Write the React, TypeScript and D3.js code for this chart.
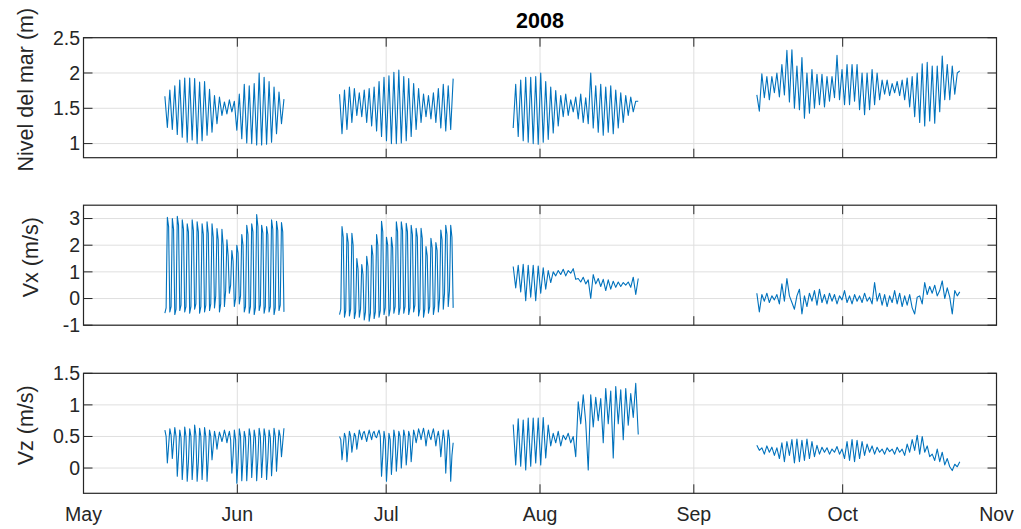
import React from 'react';
import * as d3 from 'd3';

const W = 1021;
const H = 529;

const title = '2008';
const monthLabels = ['May', 'Jun', 'Jul', 'Aug', 'Sep', 'Oct', 'Nov'];
const panelLabels = ['Nivel del mar (m)', 'Vx (m/s)', 'Vz (m/s)'];

// segment bounds, in days after 1 May 2008
const segStartDays = [16.4, 51.6, 86.6, 135.7];
const segEndDays = [40.4, 74.5, 111.8, 176.6];

// Sea level (m)
const levelSeg1 = [1.67,1.23,1.76,1.20,1.82,1.13,1.90,1.09,1.93,1.02,1.93,1.05,1.92,1.00,1.87,1.04,1.88,1.12,1.77,1.16,1.68,1.28,1.66,1.40,1.59,1.42,1.62,1.45,1.60,1.19,1.70,1.07,1.84,1.01,1.82,1.00,1.85,0.98,2.00,0.98,1.94,0.99,1.88,1.02,1.80,1.14,1.73,1.28,1.63];
const levelSeg2 = [1.70,1.14,1.76,1.20,1.80,1.30,1.78,1.40,1.72,1.38,1.76,1.30,1.78,1.25,1.80,1.18,1.88,1.10,1.94,1.04,1.96,1.00,2.01,1.00,2.04,1.01,1.95,1.04,1.92,1.10,1.85,1.20,1.78,1.30,1.70,1.38,1.68,1.35,1.72,1.30,1.78,1.22,1.84,1.18,1.82,1.20,1.92];
const levelSeg3 = [1.22,1.84,1.10,1.90,1.04,1.94,1.02,1.94,1.00,1.95,0.99,2.00,1.02,1.88,1.06,1.80,1.15,1.75,1.25,1.68,1.38,1.70,1.40,1.62,1.45,1.66,1.35,1.70,1.30,1.65,1.28,2.00,1.22,1.82,1.16,1.84,1.12,1.80,1.16,1.82,1.14,1.76,1.22,1.72,1.30,1.68,1.40,1.66,1.45,1.60,1.60];
const levelSeg4 = [1.69,1.46,1.99,1.65,1.95,1.62,1.95,1.72,2.00,1.66,2.12,1.69,2.32,1.59,2.33,1.50,2.10,1.48,2.22,1.36,2.00,1.43,2.05,1.50,1.98,1.55,1.98,1.52,1.95,1.60,1.95,1.65,2.25,1.62,2.05,1.55,2.12,1.55,2.12,1.60,2.12,1.48,2.00,1.41,2.00,1.48,2.05,1.55,2.00,1.62,1.90,1.70,1.90,1.68,1.85,1.72,1.88,1.68,1.90,1.62,1.93,1.52,1.95,1.38,2.00,1.30,2.13,1.25,2.15,1.32,2.10,1.29,2.10,1.45,2.24,1.62,2.12,1.62,2.10,1.70,2.00,2.03];

// Vx (m/s)
const vxSeg1 = [
  -0.55,-0.35,3.05,2.7, -0.5,-0.3,3.0,2.6, -0.6,-0.4,3.08,2.75, -0.45,-0.25,2.95,2.6,
  -0.5,-0.3,2.8,2.5, -0.55,-0.3,2.95,2.55, -0.4,-0.2,2.88,2.5, -0.55,-0.3,2.8,2.4,
  -0.5,-0.25,2.88,2.45, -0.45,-0.2,2.8,2.3, -0.35,0.1,2.62,2.2, -0.5,-0.2,2.6,2.0,
  -0.3,0.3,2.2,1.6, 0.2,0.5,1.8,1.4, -0.3,0.0,2.0,1.7, -0.2,0.1,2.4,2.0,
  -0.5,-0.3,2.75,2.4, -0.55,-0.3,2.8,2.5, -0.6,-0.35,3.15,2.7, -0.45,-0.25,2.75,2.45,
  -0.55,-0.3,2.7,2.4, -0.5,-0.3,2.95,2.6, -0.6,-0.35,2.9,2.55, -0.45,-0.25,2.85,2.5,
  -0.5,
];
const vxSeg2 = [
  -0.6,-0.4,2.7,2.3, -0.7,-0.45,2.45,2.1, -0.65,-0.4,2.45,2.0, -0.75,-0.5,1.5,1.1,
  -0.7,-0.4,1.27,0.9, -0.8,-0.5,1.58,1.2, -0.85,-0.55,2.0,1.6, -0.75,-0.5,2.4,2.0,
  -0.7,-0.45,2.9,2.5, -0.6,-0.35,2.3,2.0, -0.65,-0.4,2.3,1.9, -0.55,-0.3,2.88,2.5,
  -0.6,-0.35,2.88,2.55, -0.55,-0.3,2.82,2.5, -0.6,-0.35,2.75,2.4, -0.5,-0.25,2.63,2.3,
  -0.65,-0.4,2.63,2.25, -0.7,-0.4,1.95,1.6, -0.55,-0.3,2.26,1.9, -0.6,-0.3,2.1,1.8,
  -0.5,0.0,2.57,2.2, -0.4,0.2,2.75,2.4, -0.3,0.3,2.75,2.3, -0.35,
];
const vxSeg3 = [1.2,0.4,1.25,0.25,1.28,-0.08,1.25,0.05,1.25,-0.08,1.22,0.2,1.15,0.35,1.05,0.6,1.0,0.85,1.05,0.9,1.1,0.85,1.05,0.95,1.12,0.72,0.75,0.62,0.8,0.55,0.7,0.0,0.9,0.55,0.75,0.45,0.72,0.3,0.7,0.35,0.65,0.42,0.62,0.45,0.6,0.5,0.62,0.42,0.8,0.15,0.75];
const vxSeg4 = [0.2,-0.5,0.15,-0.1,0.2,-0.15,0.1,-0.05,0.15,-0.2,0.55,-0.1,0.75,0.1,-0.15,-0.4,0.1,0.35,-0.58,0.1,-0.3,0.2,-0.1,0.3,-0.25,0.35,-0.15,0.15,-0.2,0.2,-0.1,0.15,-0.2,0.1,-0.05,0.3,-0.15,0.1,-0.2,0.15,-0.1,0.1,-0.15,0.2,-0.1,0.05,-0.2,0.6,-0.1,0.2,-0.25,0.15,-0.3,0.1,-0.15,0.3,-0.2,0.2,-0.3,0.1,-0.25,0.15,-0.35,-0.58,0.05,0.1,-0.2,0.6,0.15,0.45,0.2,0.5,0.1,0.3,0.66,0.0,0.4,0.05,-0.58,0.3,0.1,0.25];

// Vz (m/s)
const vzSeg1 = [
  0.6,0.5,0.08,0.35, 0.62,0.52,0.15,0.4, 0.64,0.5,-0.13,0.2, 0.6,0.48,-0.18,0.15,
  0.65,0.5,-0.21,0.1, 0.62,0.5,-0.18,0.15, 0.68,0.52,-0.21,0.1, 0.63,0.5,-0.18,0.2,
  0.64,0.5,-0.21,0.15, 0.6,0.5,0.13,0.35, 0.58,0.48,0.3,0.45, 0.57,0.5,0.42,0.5,
  0.6,0.52,0.4,0.5, 0.58,0.45,-0.08,0.2, 0.6,0.45,-0.24,0.1, 0.62,0.5,-0.2,0.15,
  0.58,0.48,-0.2,0.2, 0.62,0.5,-0.15,0.2, 0.6,0.48,-0.2,0.15, 0.63,0.5,-0.15,0.2,
  0.62,0.5,-0.18,0.15, 0.6,0.48,-0.12,0.2, 0.63,0.5,-0.05,0.3, 0.6,0.5,0.18,0.4,
  0.63,
];
const vzSeg2 = [
  0.5,0.45,0.13,0.35, 0.55,0.48,0.1,0.35, 0.58,0.5,0.25,0.4, 0.55,0.5,0.3,0.45,
  0.6,0.52,0.45,0.55, 0.58,0.5,0.42,0.52, 0.6,0.52,0.45,0.55, 0.58,0.5,0.48,0.55,
  0.6,0.5,-0.13,0.2, 0.58,0.45,-0.21,0.15, 0.55,0.45,-0.1,0.2, 0.6,0.48,-0.05,0.25,
  0.58,0.5,0.0,0.3, 0.6,0.5,0.05,0.3, 0.58,0.5,0.1,0.35, 0.6,0.52,0.4,0.5,
  0.62,0.55,0.45,0.55, 0.63,0.52,0.35,0.5, 0.6,0.5,0.45,0.55, 0.62,0.5,0.35,0.5,
  0.58,0.45,0.18,0.4, 0.6,0.45,-0.08,0.3, 0.6,0.45,-0.21,0.2, 0.4,
];
const vzSeg3 = [0.69,0.05,0.78,0.03,0.76,-0.03,0.79,0.03,0.79,0.08,0.79,0.05,0.8,0.16,0.68,0.35,0.55,0.4,0.58,0.35,0.52,0.45,0.55,0.4,0.5,0.18,1.05,0.7,1.16,0.72,-0.03,1.16,0.65,1.12,0.75,1.1,0.4,1.26,0.7,1.22,0.16,1.29,0.7,1.24,0.45,1.26,0.68,1.18,0.8,1.34,0.53];
const vzSeg4 = [0.36,0.28,0.32,0.22,0.35,0.25,0.33,0.2,0.32,0.15,0.4,0.1,0.42,0.2,0.45,0.08,0.46,0.1,0.44,0.12,0.46,0.15,0.42,0.18,0.36,0.22,0.33,0.25,0.32,0.22,0.3,0.25,0.34,0.22,0.3,0.15,0.42,0.12,0.45,0.1,0.44,0.15,0.42,0.2,0.38,0.25,0.35,0.22,0.33,0.25,0.3,0.22,0.32,0.26,0.3,0.22,0.33,0.25,0.3,0.2,0.38,0.25,0.45,0.28,0.52,0.22,0.5,0.25,0.35,0.18,0.22,0.12,0.3,0.1,0.25,0.05,0.15,0.02,-0.04,0.06,0.02,0.1];

const levelTicks = [1, 1.5, 2, 2.5];
const vxTicks = [-1, 0, 1, 2, 3];
const vzTicks = [0, 0.5, 1, 1.5];

const levelDomain = [0.8, 2.5];
const vxDomain = [-1, 3.5];
const vzDomain = [-0.4, 1.5];

// layout
const LEFT = 83.5;
const RIGHT = 996.5;
const PANEL_TOPS = [37.7, 205.2, 373.3];
const PANEL_H = 120;
const LABEL_X = [33, 38, 33];
const LABEL_DY = -8;
const TICK_LEN = 9;
const FONT = '"Liberation Sans", Arial, Helvetica, sans-serif';
const AX = '#262626';
const GRID = '#dfdfdf';
const LINE = '#0072BD';

const base = new Date(2008, 4, 1);
const dayToDate = (d: number) => new Date(base.getTime() + d * 864e5);

const x = d3.scaleTime().domain([new Date(2008, 4, 1), new Date(2008, 10, 1)]).range([LEFT, RIGHT]);
const monthTicks = d3.timeMonth.range(new Date(2008, 4, 1), new Date(2008, 10, 2));

type PanelProps = {
  top: number;
  domain: number[];
  ticks: number[];
  segs: number[][];
  label: string;
  labelX: number;
  showX: boolean;
};

function Panel({ top, domain, ticks, segs, label, labelX, showX }: PanelProps) {
  const bottom = top + PANEL_H;
  const y = d3.scaleLinear().domain(domain).range([bottom, top]);
  const line = d3
    .line<{ t: Date; v: number }>()
    .x((d) => x(d.t))
    .y((d) => y(d.v));
  const paths = segs.map((vals, si) => {
    const s = segStartDays[si];
    const e = segEndDays[si];
    const pts = vals.map((v, i) => ({ t: dayToDate(s + ((e - s) * i) / (vals.length - 1)), v }));
    return line(pts) || '';
  });
  return (
    <g>
      {monthTicks.map((m, i) => (
        <line key={'gx' + i} x1={x(m)} x2={x(m)} y1={top} y2={bottom} stroke={GRID} strokeWidth={1} />
      ))}
      {ticks.map((t, i) => (
        <line key={'gy' + i} x1={LEFT} x2={RIGHT} y1={y(t)} y2={y(t)} stroke={GRID} strokeWidth={1} />
      ))}
      {paths.map((p, i) => (
        <path key={'p' + i} d={p} fill="none" stroke={LINE} strokeWidth={1.1} strokeLinejoin="round" />
      ))}
      {monthTicks.map((m, i) => (
        <g key={'tx' + i}>
          <line x1={x(m)} x2={x(m)} y1={bottom} y2={bottom - TICK_LEN} stroke={AX} strokeWidth={1} />
          <line x1={x(m)} x2={x(m)} y1={top} y2={top + TICK_LEN} stroke={AX} strokeWidth={1} />
        </g>
      ))}
      {ticks.map((t, i) => (
        <g key={'ty' + i}>
          <line x1={LEFT} x2={LEFT + TICK_LEN} y1={y(t)} y2={y(t)} stroke={AX} strokeWidth={1} />
          <line x1={RIGHT} x2={RIGHT - TICK_LEN} y1={y(t)} y2={y(t)} stroke={AX} strokeWidth={1} />
          <text x={LEFT - 3.5} y={y(t)} dy="0.35em" textAnchor="end" fontSize={19.5} fill={AX} fontFamily={FONT}>
            {String(t)}
          </text>
        </g>
      ))}
      <rect x={LEFT} y={top} width={RIGHT - LEFT} height={PANEL_H} fill="none" stroke={AX} strokeWidth={1.2} />
      <text
        transform={`translate(${labelX},${(top + bottom) / 2 + LABEL_DY}) rotate(-90)`}
        textAnchor="middle"
        fontSize={21.5}
        fill={AX}
        fontFamily={FONT}
      >
        {label}
      </text>
      {showX &&
        monthTicks.map((m, i) => (
          <text key={'lx' + i} x={x(m)} y={521} textAnchor="middle" fontSize={19.5} fill={AX} fontFamily={FONT}>
            {monthLabels[i]}
          </text>
        ))}
    </g>
  );
}

export default function App() {
  return (
    <svg width={W} height={H} style={{ position: 'absolute', left: 0, top: 0, background: '#fff' }}>
      <rect x={0} y={0} width={W} height={H} fill="#fff" />
      <text x={(LEFT + RIGHT) / 2} y={27.5} textAnchor="middle" fontSize={21.5} fontWeight="bold" fill="#000" fontFamily={FONT}>
        {title}
      </text>
      <Panel top={PANEL_TOPS[0]} domain={levelDomain} ticks={levelTicks} segs={[levelSeg1, levelSeg2, levelSeg3, levelSeg4]} label={panelLabels[0]} labelX={LABEL_X[0]} showX={false} />
      <Panel top={PANEL_TOPS[1]} domain={vxDomain} ticks={vxTicks} segs={[vxSeg1, vxSeg2, vxSeg3, vxSeg4]} label={panelLabels[1]} labelX={LABEL_X[1]} showX={false} />
      <Panel top={PANEL_TOPS[2]} domain={vzDomain} ticks={vzTicks} segs={[vzSeg1, vzSeg2, vzSeg3, vzSeg4]} label={panelLabels[2]} labelX={LABEL_X[2]} showX={true} />
    </svg>
  );
}
